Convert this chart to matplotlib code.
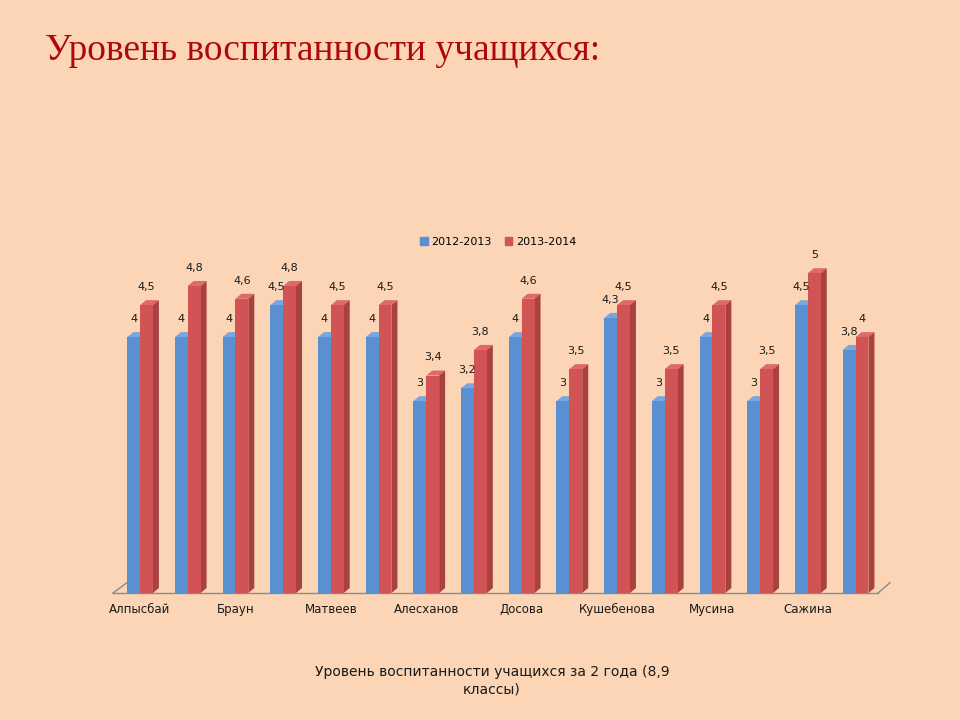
"""Уровень воспитанности учащихся: 3D-style grouped bars, two school years."""

import matplotlib

matplotlib.use("Agg")
import matplotlib.pyplot as plt
import numpy as np
from matplotlib.patches import Patch, Polygon

# only every other pupil is labelled on the axis in the original chart
NAMES = ["Алпысбай", "Браун", "Матвеев", "Алесханов", "Досова", "Кушебенова", "Мусина", "Сажина"]
YEAR_1 = [4, 4, 4, 4.5, 4, 4, 3, 3.2, 4, 3, 4.3, 3, 4, 3, 4.5, 3.8]
YEAR_2 = [4.5, 4.8, 4.6, 4.8, 4.5, 4.5, 3.4, 3.8, 4.6, 3.5, 4.5, 3.5, 4.5, 3.5, 5, 4]
SERIES = ["2012-2013", "2013-2014"]

BG = "#FBD5B5"
BLUE = ("#5A8FD2", "#79A6DE", "#4373B3")  # front, top, side
RED = ("#D15353", "#DE6A6A", "#A94141")
BAR_W = 0.27
DX, DY = 0.126, 0.078


def fmt(v: float) -> str:
    return f"{v:g}".replace(".", ",")


def bar3d(ax, x, heights, colors):
    fronts = ax.bar(x, heights, width=BAR_W, align="edge", color=colors[0], linewidth=0, zorder=2)
    for rect in fronts:
        x0, w, h = rect.get_x(), rect.get_width(), rect.get_height()
        top = [(x0, h), (x0 + w, h), (x0 + w + DX, h + DY), (x0 + DX, h + DY)]
        side = [(x0 + w, 0), (x0 + w, h), (x0 + w + DX, h + DY), (x0 + w + DX, DY)]
        ax.add_patch(Polygon(top, closed=True, color=colors[1], linewidth=0, zorder=rect.get_zorder() - 0.1))
        ax.add_patch(Polygon(side, closed=True, color=colors[2], linewidth=0, zorder=rect.get_zorder() - 0.1))
    return fronts


def main() -> None:
    fig = plt.figure(figsize=(9.6, 7.2), dpi=100, facecolor=BG)
    ax = fig.add_axes([113 / 960, 1 - 593 / 720, 765 / 960, 371 / 720])
    ax.set_facecolor("none")

    pos = np.arange(len(YEAR_1))
    # draw group by group so that each red bar sits in front of its blue neighbour
    for i in pos:
        for j, (vals, cols) in enumerate([(YEAR_1, BLUE), (YEAR_2, RED)]):
            xl = i - BAR_W + j * BAR_W
            bars = bar3d(ax, [xl], [vals[i]], cols)
            for b in bars:
                b.set_zorder(2 + 2 * i + j)
            ax.annotate(fmt(vals[i]), (xl + BAR_W / 2, vals[i]), xytext=(0, 13),
                        textcoords="offset points", ha="center", va="center",
                        fontsize=8, color="#1a1a1a", zorder=50)

    ax.set_xlim(-0.566, 15.47)
    ax.set_ylim(0, 5.8)

    # floor of the 3D box
    x0, x1 = ax.get_xlim()
    ax.plot([x0, x1], [0, 0], color="#8a8a8a", lw=1.0, clip_on=False, zorder=1)
    ax.plot([x0, x0 + 0.29], [0, 0.16], color="#8a8a8a", lw=1.0, clip_on=False, zorder=1)
    ax.plot([x1, x1 + 0.25], [0, 0.16], color="#8a8a8a", lw=1.0, clip_on=False, zorder=1)

    for s in ax.spines.values():
        s.set_visible(False)
    ax.set_yticks([])
    ax.set_xticks(pos[::2], NAMES)
    ax.tick_params(axis="x", length=0, pad=7, labelsize=8.5, labelcolor="#1a1a1a")

    handles = [Patch(color=BLUE[0]), Patch(color=RED[0])]
    fig.legend(handles, SERIES, loc="center", bbox_to_anchor=(498 / 960, 1 - 242 / 720),
               ncol=2, frameon=False, fontsize=8, handlelength=0.7, handleheight=0.7,
               handletextpad=0.3, columnspacing=1.2)

    fig.text(45 / 960, 1 - 51 / 720, "Уровень воспитанности учащихся:", family="Liberation Serif",
             fontsize=27, color="#AE0808", ha="left", va="center")
    fig.text(492 / 960, 1 - 681 / 720, "Уровень воспитанности учащихся за 2 года (8,9\nклассы)",
             ha="center", va="center", fontsize=10, color="#1a1a1a", linespacing=1.3)

    fig.savefig("out.png", dpi=100, facecolor=BG)
    plt.close(fig)


if __name__ == "__main__":
    main()
